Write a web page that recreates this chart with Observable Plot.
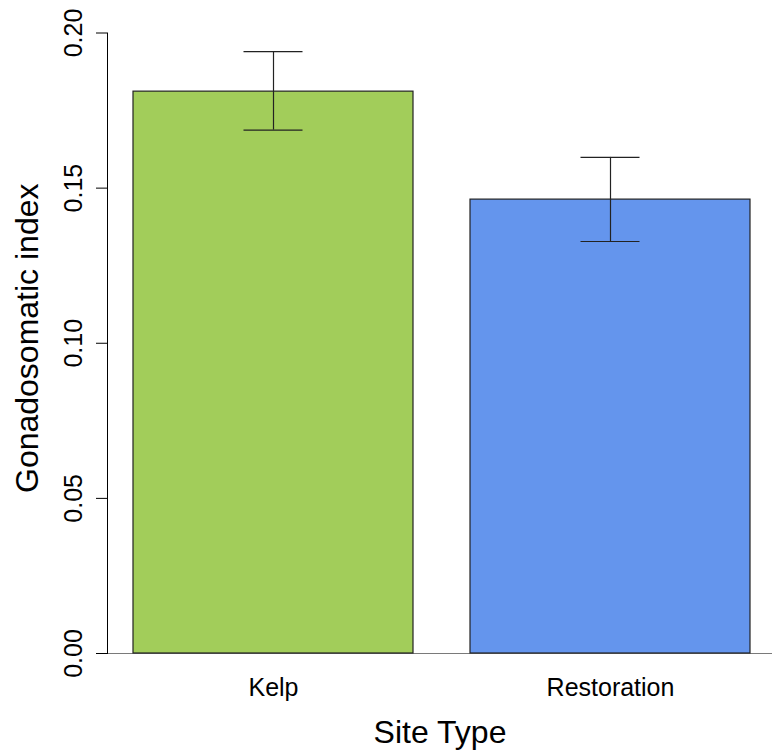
<!DOCTYPE html>
<html>
<head>
<meta charset="utf-8">
<script src="https://cdn.jsdelivr.net/npm/d3@7"></script>
<script src="https://cdn.jsdelivr.net/npm/@observablehq/plot@0.6"></script>
<style>
  html, body { margin: 0; padding: 0; background: #fff; }
  #chart svg { display: block; }
</style>
</head>
<body>
<div id="chart"></div>
<script>
const sites = ["Kelp", "Restoration"];
const means = [0.1811, 0.1463];
const lowers = [0.1687, 0.1328];
const uppers = [0.1940, 0.1599];
const barColors = ["#A2CD5A", "#6495ED"];
const yTicks = [0, 0.05, 0.10, 0.15, 0.20];
const xTitle = "Site Type";
const yTitle = "Gonadosomatic index";

const data = sites.map((s, i) => ({site: s, mean: means[i], lo: lowers[i], hi: uppers[i], color: barColors[i]}));

const chart = Plot.plot({
  width: 772,
  height: 756,
  marginTop: 32.5,
  marginBottom: 103,
  marginLeft: 107,
  marginRight: 0,
  style: {fontFamily: "'Liberation Sans', Arial, sans-serif", background: "#fff", color: "#000"},
  x: {type: "band", domain: sites, range: [107, 776], paddingInner: 0.1686, paddingOuter: 0.074},
  y: {domain: [0, 0.2], range: [653, 32.5]},
  marks: [
    Plot.ruleY([0], {stroke: "#7a7a7a", strokeWidth: 1}),
    Plot.barY(data, {x: "site", y: "mean", fill: "color", stroke: "#222", strokeWidth: 1.2}),
    Plot.ruleX(data, {x: "site", y1: "lo", y2: "hi", stroke: "#222", strokeWidth: 1.2}),
    Plot.tickY(data, {x: "site", y: "lo", stroke: "#222", strokeWidth: 1.2, insetLeft: 110.5, insetRight: 110.5}),
    Plot.tickY(data, {x: "site", y: "hi", stroke: "#222", strokeWidth: 1.2, insetLeft: 110.5, insetRight: 110.5}),
    Plot.frame({anchor: "left", stroke: "#000", strokeWidth: 1}),
    Plot.axisY({ticks: yTicks, tickSize: 11, tickPadding: 15, tickRotate: -90, tickFormat: d3.format(".2f"), fontSize: 25, label: null, stroke: "#000"}),
    Plot.axisX({tickSize: 0, tickPadding: 25, fontSize: 25, label: null}),
    Plot.text([yTitle], {frameAnchor: "left", textAnchor: "middle", dx: -80, dy: -5, rotate: -90, fontSize: 32, fill: "#000"}),
    Plot.text([xTitle], {frameAnchor: "bottom", dy: 89, fontSize: 32, fill: "#000"})
  ]
});
document.getElementById("chart").appendChild(chart);
</script>
</body>
</html>
